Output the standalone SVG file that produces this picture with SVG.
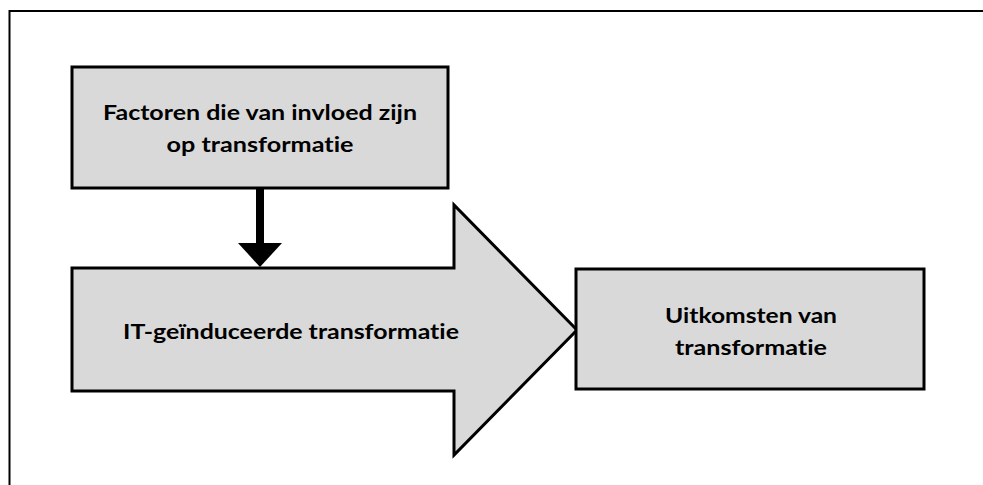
<svg xmlns="http://www.w3.org/2000/svg" width="983" height="485" viewBox="0 0 983 485">
<style>
.box{fill:#d9d9d9;stroke:#000;stroke-width:3}
.lbl{font-family:Lato,"Open Sans","Liberation Sans",sans-serif;font-weight:bold;font-size:21px;fill:#000;text-anchor:middle;font-variant-ligatures:none;font-feature-settings:"liga" 0,"dlig" 0}
</style>
<rect x="9.5" y="11" width="1000" height="500" fill="#fff" stroke="#000" stroke-width="2"/>
<g id="connectors">
<rect x="256" y="188" width="8" height="56" fill="#000"/>
<polygon points="238,243 282,243 260,267" fill="#000"/>
</g>
<g id="node-factoren">
<rect class="box" x="72" y="67" width="376" height="121"/>
<text class="lbl" x="260" y="120" textLength="314" lengthAdjust="spacingAndGlyphs">Factoren die van invloed zijn</text>
<text class="lbl" x="260" y="152" textLength="187" lengthAdjust="spacingAndGlyphs">op transformatie</text>
</g>
<g id="node-it">
<polygon class="box" points="72,268 454,268 454,205 577,330 454,455 454,391 72,391"/>
<text class="lbl" x="291" y="338.5" textLength="336" lengthAdjust="spacingAndGlyphs">IT-geïnduceerde transformatie</text>
</g>
<g id="node-uitkomsten">
<rect class="box" x="576" y="269" width="348" height="120"/>
<text class="lbl" x="751" y="322.7" textLength="172" lengthAdjust="spacingAndGlyphs">Uitkomsten van</text>
<text class="lbl" x="751" y="355" textLength="152" lengthAdjust="spacingAndGlyphs">transformatie</text>
</g>
</svg>
